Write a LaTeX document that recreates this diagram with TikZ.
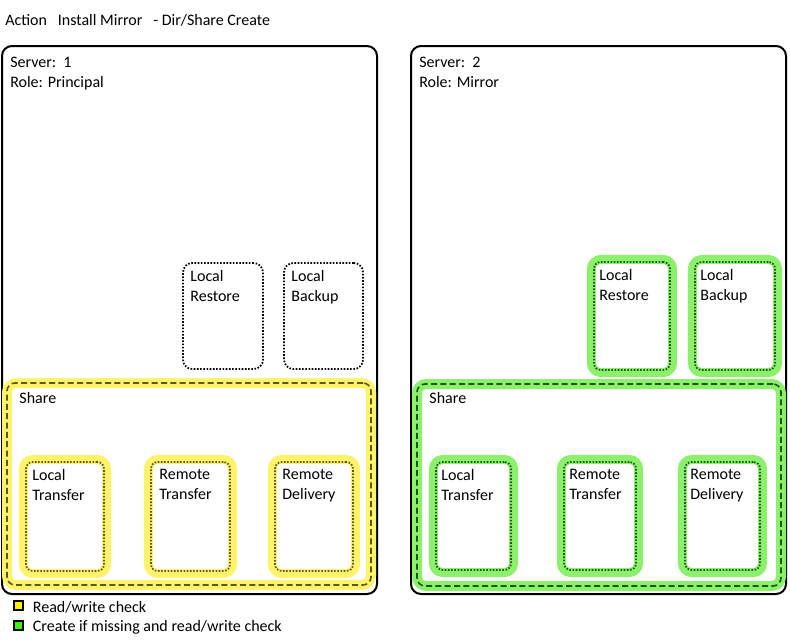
\documentclass[tikz,border=0pt]{standalone}
\usepackage{fontspec}
\setmainfont{Carlito}
\usetikzlibrary{fit,positioning}

\definecolor{bandyellow}{HTML}{FFF36B}
\definecolor{bandgreen}{HTML}{8CF06C}
\definecolor{lineyellow}{HTML}{5E5818}
\definecolor{linegreen}{HTML}{1A5A10}
\definecolor{keyyellow}{HTML}{FFF000}
\definecolor{keygreen}{HTML}{44EE11}

\tikzset{
	txt/.style={font=\fontsize{12}{15}\selectfont, inner sep=0pt},
	lbl/.style={txt, anchor=north west, align=left},
	srvbox/.style={draw=black, line width=1.5pt, rounded corners=7.5pt, inner sep=0pt},
	dotbox/.style={line width=1.3pt, dash pattern=on 1.2pt off 1.2pt, rounded corners=5pt, inner sep=0pt},
	dashbox/.style={line width=1.2pt, dash pattern=on 4.5pt off 2.5pt, rounded corners=6pt, inner sep=0pt},
	band/.style={line width=6.75pt, rounded corners=7pt, inner sep=1.9pt},
	shareband/.style={line width=7.5pt, rounded corners=7pt, inner sep=0pt},
	keybox/.style={draw=black, line width=1.5pt, minimum size=6.75pt, inner sep=0pt}
}

\begin{document}
\begin{tikzpicture}[x=0.75pt, y=-0.75pt]

	% ---- canvas

	\useasboundingbox (0,0) rectangle (790,640);

	% ---- title

	\node[txt, anchor=base west] (title) at (5,25) {Action\ \ \ Install Mirror\ \ \ - Dir/Share Create};

	% ---- servers

	\node[srvbox, fit={(2,46)(377,594)}] (srv1) {};
	\node[srvbox, fit={(411,46)(786,594)}] (srv2) {};

	\node[lbl] (srv1-txt) at ([shift={(9,12)}]srv1.north west) {Server:\ \ 1\\Role: Principal};
	\node[lbl] (srv2-txt) at ([shift={(9,12)}]srv2.north west) {Server:\ \ 2\\Role: Mirror};

	% ---- shares

	\node[shareband, draw=bandyellow, fit={(7,383)(371,585)}] (share1-band) {};
	\node[dashbox, draw=lineyellow, fit={(7,383)(371,585)}] (share1) {};
	\node[lbl] (share1-txt) at ([shift={(13,10)}]share1.north west) {Share};

	\node[shareband, draw=bandgreen, fit={(417,384)(781,586)}] (share2-band) {};
	\node[dashbox, draw=linegreen, fit={(417,384)(781,586)}] (share2) {};
	\node[lbl] (share2-txt) at ([shift={(13,9)}]share2.north west) {Share};

	% ---- unchecked folders (server 1)

	\foreach \nm/\xa/\xb/\txt in {lr1/183/263/{Local\\Restore}, lb1/284/363/{Local\\Backup}} {
		\node[dotbox, draw=black, rounded corners=7pt, fit={(\xa,263)(\xb,369)}] (\nm) {};
		\node[lbl] (\nm-txt) at ([shift={(8,8)}]\nm.north west) {\txt};
	}

	% ---- read/write check folders (server 1)

	\foreach \nm/\xa/\xb/\dx/\txt in {lt1/26/104/7/{Local\\Transfer}, rt1/151/230/9/{Remote\\Transfer}, rd1/275/353/8/{Remote\\Delivery}} {
		\node[band, draw=bandyellow, fit={(\xa,462)(\xb,571)}] (\nm-band) {};
		\node[dotbox, draw=lineyellow, fit={(\xa,462)(\xb,571)}] (\nm) {};
		\node[lbl] (\nm-txt) at ([shift={(\dx,8)}]\nm.north west) {\txt};
	}

	% ---- create + read/write check folders (server 2)

	\foreach \nm/\xa/\xb/\ya/\yb/\txt in {lr2/594/670/262/370/{Local\\Restore}, lb2/695/775/262/370/{Local\\Backup},
		lt2/436/511/462/570/{Local\\Transfer}, rt2/564/636/462/570/{Remote\\Transfer}, rd2/685/760/462/570/{Remote\\Delivery}} {
		\node[band, draw=bandgreen, fit={(\xa,\ya)(\xb,\yb)}] (\nm-band) {};
		\node[dotbox, draw=linegreen, fit={(\xa,\ya)(\xb,\yb)}] (\nm) {};
		\node[lbl] (\nm-txt) at ([shift={(6,8)}]\nm.north west) {\txt};
	}

	% ---- legend

	\node[keybox, fill=keyyellow] (key1) at (18.5,605.5) {};
	\node[txt, right=6.5pt of key1, yshift=-1pt] (key1-txt) {Read/write check};

	\node[keybox, fill=keygreen] (key2) at (18.5,625.5) {};
	\node[txt, right=6.5pt of key2, yshift=-1pt] (key2-txt) {Create if missing and read/write check};

\end{tikzpicture}
\end{document}
